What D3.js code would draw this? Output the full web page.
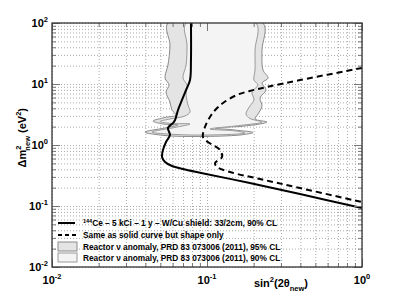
<!DOCTYPE html>
<html>
<head>
<meta charset="utf-8">
<script src="https://cdn.jsdelivr.net/npm/d3@7"></script>
<style>
  body { margin: 0; background: #fff; }
  text { font-family: "Liberation Sans", Arial, sans-serif; font-weight: bold; fill: #000; }
</style>
</head>
<body>
<div id="chart-container"></div>
<script>
// Sensitivity curves, [sin2(2theta), dm2 in eV2]
const solidCurve = [
  [0.0788, 100], [0.0788, 24.7], [0.0777, 11.6], [0.0733, 7.98], [0.0690, 5.47],
  [0.0650, 3.75], [0.0622, 2.57], [0.0604, 2.30], [0.0560, 1.90], [0.0577, 1.46],
  [0.0544, 1.12], [0.0520, 0.828], [0.0513, 0.635], [0.0536, 0.526], [0.0594, 0.453],
  [0.0700, 0.405], [0.0901, 0.352], [0.189, 0.238], [0.398, 0.157], [1.0, 0.0927]
];
const dashedCurve = [
  [1.0, 18.3], [0.398, 11.6], [0.2438, 8.93], [0.189, 7.68], [0.156, 6.61],
  [0.127, 4.89], [0.113, 3.75], [0.1045, 2.88], [0.097, 1.97], [0.0942, 1.35],
  [0.1014, 1.12], [0.1213, 0.828], [0.125, 0.635], [0.1127, 0.507], [0.1161, 0.436],
  [0.1406, 0.361], [0.2198, 0.277], [0.398, 0.197], [1.0, 0.116]
];
// Reactor anomaly contours
const reactor95 = [
  [0.0560, 100], [0.0577, 43.6], [0.0560, 20.5], [0.0536, 12.5], [0.0569, 9.63],
  [0.0544, 7.39], [0.0577, 5.07], [0.0594, 3.75], [0.0631, 3.10], [0.0536, 2.82],
  [0.0449, 2.47], [0.0520, 2.21], [0.0650, 2.13], [0.0536, 1.90], [0.0398, 1.63],
  [0.0536, 1.43], [0.0901, 1.38], [0.1633, 1.46], [0.1982, 1.60], [0.1516, 1.76],
  [0.1127, 1.90], [0.1758, 2.05], [0.2438, 2.38], [0.2041, 2.67], [0.2133, 3.22],
  [0.2264, 4.36], [0.2198, 5.90], [0.2403, 7.98], [0.2264, 10.4], [0.2477, 12.5],
  [0.2296, 17.0], [0.2264, 36.1], [0.2296, 100]
];
const reactor90 = [
  [0.0733, 100], [0.0743, 43.6], [0.0733, 20.5], [0.0700, 12.5], [0.0743, 9.63],
  [0.0733, 6.60], [0.0754, 4.53], [0.0777, 3.48], [0.0721, 2.99], [0.0577, 2.67],
  [0.0498, 2.43], [0.0594, 2.25], [0.0777, 2.21], [0.0622, 1.94], [0.0442, 1.63],
  [0.0622, 1.49], [0.1045, 1.46], [0.1758, 1.57], [0.1516, 1.70], [0.1045, 1.83],
  [0.1633, 2.09], [0.2264, 2.38], [0.1893, 2.72], [0.1785, 3.22], [0.1893, 4.36],
  [0.2010, 5.47], [0.1950, 7.39], [0.2133, 9.63], [0.2010, 11.6], [0.2041, 17.0],
  [0.2041, 36.1], [0.2071, 100]
];
const xTicks = [0.01, 0.1, 1];
const xTickExp = ["-2", "-1", "0"];
const yTicks = [0.01, 0.1, 1, 10, 100];
const yTickExp = ["-2", "-1", "0", "1", "2"];
const legendLabels = [
  "Ce \u2013 5 kCi \u2013 1 y \u2013 W/Cu shield: 33/2cm, 90% CL",
  "Same as solid curve but shape only",
  "Reactor \u03bd anomaly, PRD 83 073006 (2011), 95% CL",
  "Reactor \u03bd anomaly, PRD 83 073006 (2011), 90% CL"
];

const W = 400, H = 301;
const margin = { top: 23, right: 38, bottom: 34, left: 52 };
const width = W - margin.left - margin.right;
const height = H - margin.top - margin.bottom;

const svg = d3.select("#chart-container")
  .append("svg")
  .attr("width", W)
  .attr("height", H);

const g = svg.append("g")
  .attr("transform", `translate(${margin.left},${margin.top})`);

const x = d3.scaleLog().domain([0.01, 1]).range([0, width]);
const y = d3.scaleLog().domain([0.01, 100]).range([height, 0]);

g.append("clipPath").attr("id", "clip")
  .append("rect").attr("width", width).attr("height", height);

// dotted grid at every log tick
const gridX = g.append("g")
  .attr("transform", `translate(0,${height})`)
  .call(d3.axisBottom(x).ticks(10).tickSize(-height).tickFormat(""));
const gridY = g.append("g")
  .call(d3.axisLeft(y).ticks(10).tickSize(-width).tickFormat(""));
[gridX, gridY].forEach(s => {
  s.selectAll(".domain").remove();
  s.selectAll("line")
    .attr("stroke", "#aaa")
    .attr("stroke-dasharray", "1,2");
});

const plot = g.append("g").attr("clip-path", "url(#clip)");

const area = d3.line()
  .x(d => x(d[0]))
  .y(d => y(d[1]))
  .curve(d3.curveCatmullRomClosed.alpha(0.5));

plot.append("path")
  .attr("d", area(reactor95))
  .attr("fill", "#e4e4e4")
  .attr("stroke", "#8a8a8a")
  .attr("stroke-width", 1);

plot.append("path")
  .attr("d", area(reactor90))
  .attr("fill", "#f4f4f4")
  .attr("stroke", "#9a9a9a")
  .attr("stroke-width", 1);

const line = d3.line()
  .x(d => x(d[0]))
  .y(d => y(d[1]))
  .curve(d3.curveCatmullRom.alpha(0.5));

plot.append("path")
  .attr("d", line(dashedCurve))
  .attr("fill", "none")
  .attr("stroke", "#000")
  .attr("stroke-width", 2)
  .attr("stroke-dasharray", "6,4");

plot.append("path")
  .attr("d", line(solidCurve))
  .attr("fill", "none")
  .attr("stroke", "#000")
  .attr("stroke-width", 2);

// ticks on all four sides, pointing inward
function tickAxis(axis, size, transform) {
  const a = g.append("g")
    .attr("transform", transform)
    .call(axis.ticks(10).tickSize(size).tickFormat(""));
  a.selectAll(".domain").remove();
  a.selectAll("line").attr("stroke", "#777");
  return a;
}
tickAxis(d3.axisBottom(x), -4, `translate(0,${height})`);
tickAxis(d3.axisTop(x), -4, "translate(0,0)");
tickAxis(d3.axisLeft(y), -4, "translate(0,0)");
tickAxis(d3.axisRight(y), -4, `translate(${width},0)`);
tickAxis(d3.axisBottom(x).tickValues(xTicks), -8, `translate(0,${height})`);
tickAxis(d3.axisTop(x).tickValues(xTicks), -8, "translate(0,0)");
tickAxis(d3.axisLeft(y).tickValues(yTicks), -8, "translate(0,0)");
tickAxis(d3.axisRight(y).tickValues(yTicks), -8, `translate(${width},0)`);

// frame
g.append("rect")
  .attr("width", width)
  .attr("height", height)
  .attr("fill", "none")
  .attr("stroke", "#333")
  .attr("stroke-width", 1.3);

// tick labels
xTicks.forEach((t, i) => {
  const tx = g.append("text")
    .attr("x", x(t))
    .attr("y", height + 17)
    .attr("text-anchor", "middle")
    .style("font-size", "11px");
  tx.append("tspan").text("10");
  tx.append("tspan").attr("dy", -5).style("font-size", "7.5px").text(xTickExp[i]);
});
yTicks.forEach((t, i) => {
  const ty = g.append("text")
    .attr("x", -4)
    .attr("y", y(t) + 4)
    .attr("text-anchor", "end")
    .style("font-size", "11px");
  ty.append("tspan").text("10");
  ty.append("tspan").attr("dy", -5).style("font-size", "7.5px").text(yTickExp[i]);
});

// axis titles
const xt = svg.append("text")
  .attr("x", 308)
  .attr("y", 287)
  .attr("text-anchor", "end")
  .style("font-size", "11px");
xt.append("tspan").text("sin");
xt.append("tspan").attr("dy", -5).style("font-size", "7.5px").text("2");
xt.append("tspan").attr("dy", 5).text("(2\u03b8");
xt.append("tspan").attr("dy", 4).style("font-size", "7.5px").text("new");
xt.append("tspan").attr("dy", -4).text(")");

const yt = svg.append("text")
  .attr("transform", "translate(26,108) rotate(-90)")
  .attr("text-anchor", "end")
  .style("font-size", "11px");
yt.append("tspan").text("\u0394m");
yt.append("tspan").attr("dy", -5).style("font-size", "7.5px").text("2");
yt.append("tspan").attr("dy", 9).attr("dx", -5).style("font-size", "7.5px").text("new");
yt.append("tspan").attr("dy", -4).text(" (eV");
yt.append("tspan").attr("dy", -5).style("font-size", "7.5px").text("2");
yt.append("tspan").attr("dy", 5).text(")");

// legend
const legendY = [223, 235, 246.5, 257.5];
const leg = svg.append("g");
leg.append("line")
  .attr("x1", 58).attr("x2", 75).attr("y1", legendY[0]).attr("y2", legendY[0])
  .attr("stroke", "#000").attr("stroke-width", 2);
leg.append("line")
  .attr("x1", 58).attr("x2", 77).attr("y1", legendY[1]).attr("y2", legendY[1])
  .attr("stroke", "#000").attr("stroke-width", 2).attr("stroke-dasharray", "4,3");
[["#e4e4e4", "#8a8a8a"], ["#f4f4f4", "#9a9a9a"]].forEach((c, i) => {
  leg.append("rect")
    .attr("x", 58).attr("y", legendY[i + 2] - 4.5)
    .attr("width", 19).attr("height", 9)
    .attr("fill", c[0]).attr("stroke", c[1]);
});
legendLabels.forEach((l, i) => {
  const t = leg.append("text")
    .attr("x", 83)
    .attr("y", legendY[i] + 3)
    .style("font-size", "8.3px");
  if (i === 0) {
    t.append("tspan").attr("dy", -3).style("font-size", "5.5px").text("144");
    t.append("tspan").attr("dy", 3).text(l);
  } else {
    t.text(l);
  }
});
</script>
</body>
</html>
